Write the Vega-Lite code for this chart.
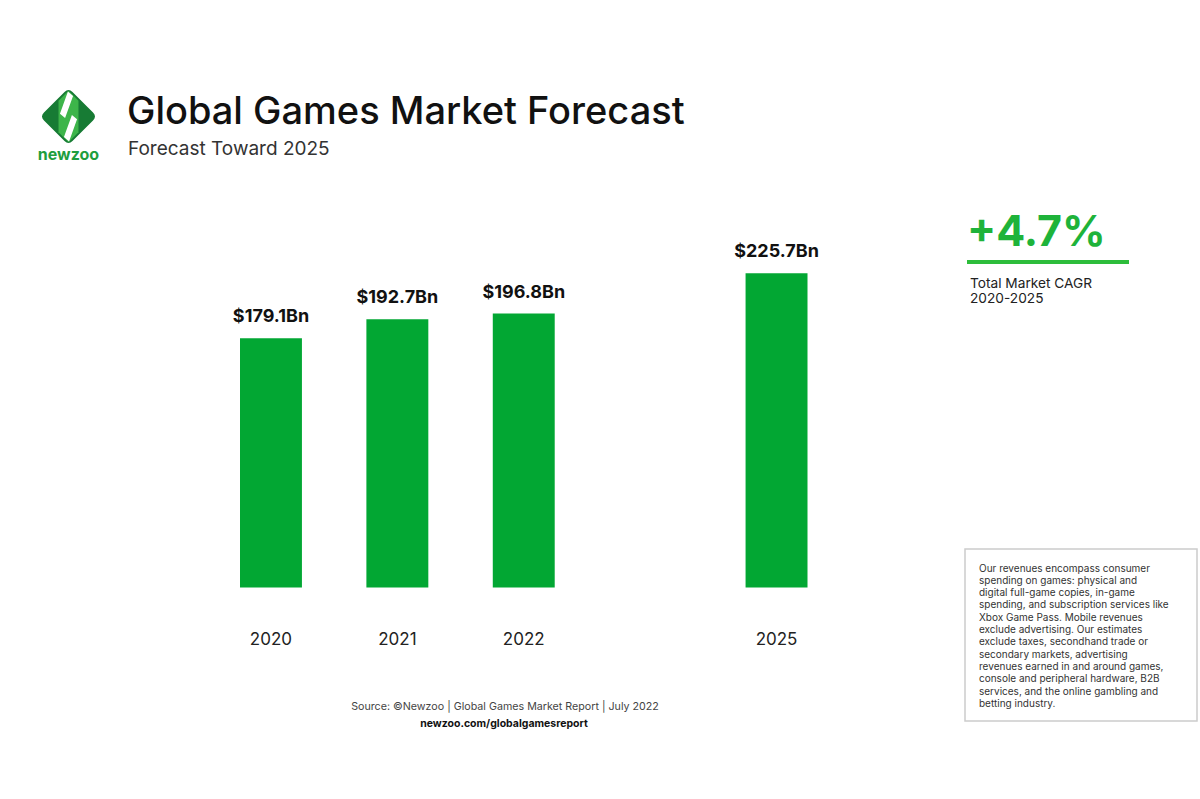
{
  "$schema": "https://vega.github.io/schema/vega-lite/v6.json",
  "width": 1200,
  "height": 799,
  "autosize": {"type": "fit", "contains": "padding"},
  "padding": 0,
  "background": "white",
  "config": {"view": {"stroke": null}, "font": "Inter"},
  "resolve": {"scale": {"x": "independent", "y": "independent"}, "axis": {"x": "independent", "y": "independent"}},
  "layer": [
    {
      "data": {"values": [
        {"year": "2020", "revenue": 179.1, "label": "$179.1Bn"},
        {"year": "2021", "revenue": 192.7, "label": "$192.7Bn"},
        {"year": "2022", "revenue": 196.8, "label": "$196.8Bn"},
        {"year": "2025", "revenue": 225.7, "label": "$225.7Bn"}
      ]},
      "encoding": {
        "x": {"field": "year", "type": "nominal",
          "scale": {"type": "band", "domain": ["2020", "2021", "2022", "", "2025"], "range": [240, 807.5], "paddingInner": 0.51, "paddingOuter": 0},
          "axis": {"orient": "bottom", "offset": -155, "domain": false, "ticks": false, "grid": false, "labelPadding": 0, "labelBaseline": "alphabetic", "labelFontSize": 17, "labelColor": "#222222", "labelFont": "Inter", "labelAngle": 0, "title": null, "values": ["2020", "2021", "2022", "2025"]}},
        "y": {"field": "revenue", "type": "quantitative", "scale": {"domain": [-151.94, 422.06], "nice": false, "zero": false}, "axis": null}
      },
      "layer": [
        {"mark": {"type": "bar", "color": "#02a733"}, "encoding": {"y2": {"datum": 0}}},
        {"mark": {"type": "text", "baseline": "alphabetic", "dy": -16, "fontSize": 18, "fontWeight": "bold", "color": "#111111"}, "encoding": {"text": {"field": "label"}}}
      ]
    },
    {
      "data": {"values": [{}]},
      "layer": [
        {"mark": {"type": "point", "filled": true, "fill": "#177b34", "stroke": null, "opacity": 1, "size": 3249,
          "shape": "M-0.14,-0.86 Q0,-1 0.14,-0.86 L0.86,-0.14 Q1,0 0.86,0.14 L0.14,0.86 Q0,1 -0.14,0.86 L-0.86,0.14 Q-1,0 -0.86,-0.14 Z"},
         "encoding": {"x": {"datum": 68.5, "type": "quantitative", "scale": {"domain": [0, 1200], "nice": false, "zero": false}, "axis": null},
                      "y": {"datum": 116.5, "type": "quantitative", "scale": {"domain": [799, 0], "nice": false, "zero": false}, "axis": null}}},
        {"mark": {"type": "point", "filled": true, "fill": "#3db54a", "stroke": null, "opacity": 1, "size": 3249,
          "shape": "M0,-0.9 L0.35,-0.55 L0.35,0.55 L0,0.9 L-0.35,0.55 L-0.35,-0.55 Z"},
         "encoding": {"x": {"datum": 68.5, "type": "quantitative", "axis": null}, "y": {"datum": 116.5, "type": "quantitative", "axis": null}}},
        {"mark": {"type": "point", "filled": true, "fill": "#ffffff", "stroke": null, "opacity": 1, "size": 3249,
          "shape": "M-0.02,-0.88 L0.16,-0.72 L-0.12,0.05 L-0.3,-0.1 Z M0.02,0.88 L-0.16,0.72 L0.12,-0.05 L0.3,0.1 Z"},
         "encoding": {"x": {"datum": 68.5, "type": "quantitative", "axis": null}, "y": {"datum": 116.5, "type": "quantitative", "axis": null}}},
        {"mark": {"type": "text", "text": "newzoo", "align": "center", "baseline": "alphabetic", "fontSize": 16, "fontWeight": "bold", "color": "#1e9e3e"},
         "encoding": {"x": {"datum": 68.5, "type": "quantitative", "axis": null}, "y": {"datum": 160, "type": "quantitative", "axis": null}}},
        {"mark": {"type": "text", "text": "Global Games Market Forecast", "align": "left", "baseline": "alphabetic", "fontSize": 38, "fontWeight": 500, "color": "#111111"},
         "encoding": {"x": {"datum": 127, "type": "quantitative", "axis": null}, "y": {"datum": 124, "type": "quantitative", "axis": null}}},
        {"mark": {"type": "text", "text": "Forecast Toward 2025", "align": "left", "baseline": "alphabetic", "fontSize": 19, "fontWeight": 400, "color": "#333333"},
         "encoding": {"x": {"datum": 128, "type": "quantitative", "axis": null}, "y": {"datum": 155, "type": "quantitative", "axis": null}}},
        {"mark": {"type": "text", "text": "+4.7%", "align": "left", "baseline": "alphabetic", "fontSize": 43, "fontWeight": "bold", "color": "#1eb33a"},
         "encoding": {"x": {"datum": 967, "type": "quantitative", "axis": null}, "y": {"datum": 246, "type": "quantitative", "axis": null}}},
        {"mark": {"type": "rule", "color": "#2dbd3b", "strokeWidth": 4},
         "encoding": {"x": {"datum": 967, "type": "quantitative", "axis": null}, "x2": {"datum": 1129}, "y": {"datum": 262, "type": "quantitative", "axis": null}}},
        {"mark": {"type": "text", "text": ["Total Market CAGR", "2020-2025"], "align": "left", "baseline": "alphabetic", "fontSize": 13.7, "lineHeight": 15, "color": "#222222"},
         "encoding": {"x": {"datum": 970, "type": "quantitative", "axis": null}, "y": {"datum": 288, "type": "quantitative", "axis": null}}},
        {"mark": {"type": "rect", "fill": "#ffffff", "stroke": "#cccccc", "strokeWidth": 1.5},
         "encoding": {"x": {"datum": 965, "type": "quantitative", "axis": null}, "x2": {"datum": 1197}, "y": {"datum": 549, "type": "quantitative", "axis": null}, "y2": {"datum": 721}}},
        {"mark": {"type": "text", "text": [
            "Our revenues encompass consumer",
            "spending on games: physical and",
            "digital full-game copies, in-game",
            "spending, and subscription services like",
            "Xbox Game Pass. Mobile revenues",
            "exclude advertising. Our estimates",
            "exclude taxes, secondhand trade or",
            "secondary markets, advertising",
            "revenues earned in and around games,",
            "console and peripheral hardware, B2B",
            "services, and the online gambling and",
            "betting industry."
          ], "align": "left", "baseline": "alphabetic", "fontSize": 10, "lineHeight": 12.3, "color": "#333333"},
         "encoding": {"x": {"datum": 979, "type": "quantitative", "axis": null}, "y": {"datum": 571.5, "type": "quantitative", "axis": null}}},
        {"mark": {"type": "text", "text": "Source: ©Newzoo | Global Games Market Report | July 2022", "align": "center", "baseline": "alphabetic", "fontSize": 10.7, "color": "#444444"},
         "encoding": {"x": {"datum": 505, "type": "quantitative", "axis": null}, "y": {"datum": 710, "type": "quantitative", "axis": null}}},
        {"mark": {"type": "text", "text": "newzoo.com/globalgamesreport", "align": "center", "baseline": "alphabetic", "fontSize": 10.5, "fontWeight": "bold", "color": "#111111"},
         "encoding": {"x": {"datum": 504, "type": "quantitative", "axis": null}, "y": {"datum": 727, "type": "quantitative", "axis": null}}}
      ]
    }
  ]
}
